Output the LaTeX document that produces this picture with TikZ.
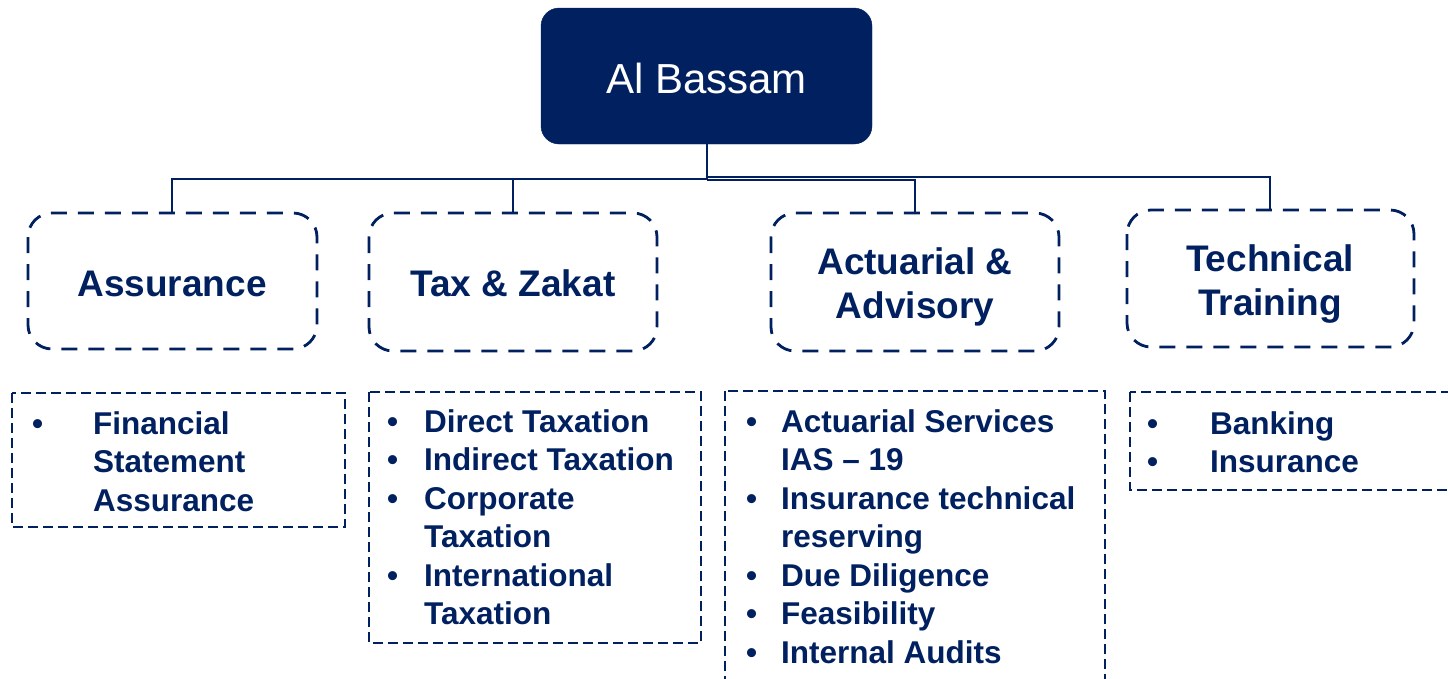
\documentclass[tikz,border=0pt]{standalone}
\usepackage{fontspec}
\setmainfont{Liberation Sans}
\usepackage{array}
\definecolor{navy}{RGB}{0,32,96}
\begin{document}
\begin{tikzpicture}[x=1pt,y=-1pt,
  conn/.style={draw=navy,line width=1.4pt},
  titlebox/.style={draw=navy,line width=2.8pt,dash pattern=on 16pt off 11pt,rounded corners=24pt,fill=none},
  titletext/.style={text=navy,font=\fontsize{37}{44}\selectfont\bfseries,anchor=base,inner sep=0pt},
  listbox/.style={draw=navy,line width=1.5pt,dash pattern=on 10pt off 5pt},
  listtext/.style={text=navy,font=\fontsize{31.5}{38.5}\selectfont\bfseries,anchor=base west,inner sep=0pt},
  rootbox/.style={fill=navy,draw=navy,rounded corners=18pt,text=white,font=\fontsize{42}{50}\selectfont}
]
\useasboundingbox (0,0) rectangle (1448,678);
\clip (0,0) rectangle (1448,678);

% root
\draw[rootbox] (541,8) rectangle (872,144);
\node[text=white,font=\fontsize{42}{50}\selectfont,anchor=base,inner sep=0pt] (root) at (706.5,93) {Al Bassam};
\coordinate (rootS) at (707,144);

% title boxes
\draw[titlebox] (28,213) rectangle (317,349);
\draw[titlebox] (369,213) rectangle (657,351);
\draw[titlebox] (771,213) rectangle (1059,351);
\draw[titlebox] (1127,210) rectangle (1414,347);
\coordinate (tA) at (172,213);
\coordinate (tB) at (513,213);
\coordinate (tC) at (915,213);
\coordinate (tD) at (1270,210);

\node[titletext] (nA) at (172,296) {Assurance};
\node[titletext] (nB) at (513,296) {Tax \& Zakat};
\node[titletext] (nC1) at (915,274) {Actuarial \&};
\node[titletext] (nC2) at (915,318) {Advisory};
\node[titletext] (nD1) at (1270,271) {Technical};
\node[titletext] (nD2) at (1270,315) {Training};

% connectors
\draw[conn] (rootS) -- (707,179) -| (tA);
\draw[conn] (707,179) -| (tB);
\draw[conn] (707,180) -| (tC);
\draw[conn] (707,177) -| (tD);

% list boxes
\draw[listbox] (12,393) rectangle (345,527);
\draw[listbox] (369,392) rectangle (701,643);
\draw[listbox] (725,391) rectangle (1105,700);
\draw[listbox] (1130,392) rectangle (1470,490);

\node[listtext] (lA) at (32,434) {\begin{tabular}[t]{@{}p{61pt}@{}l@{}}
\textbullet & Financial\\ & Statement\\ & Assurance\end{tabular}};
\node[listtext] (lB) at (387,432) {\begin{tabular}[t]{@{}p{37pt}@{}l@{}}
\textbullet & Direct Taxation\\
\textbullet & Indirect Taxation\\
\textbullet & Corporate\\ & Taxation\\
\textbullet & International\\ & Taxation\end{tabular}};
\node[listtext] (lC) at (746,432) {\begin{tabular}[t]{@{}p{35pt}@{}l@{}}
\textbullet & Actuarial Services\\ & IAS -- 19\\
\textbullet & Insurance technical\\ & reserving\\
\textbullet & Due Diligence\\
\textbullet & Feasibility\\
\textbullet & Internal Audits\end{tabular}};
\node[listtext] (lD) at (1147,434) {\begin{tabular}[t]{@{}p{63pt}@{}l@{}}
\textbullet & Banking\\
\textbullet & Insurance\end{tabular}};
\end{tikzpicture}
\end{document}
